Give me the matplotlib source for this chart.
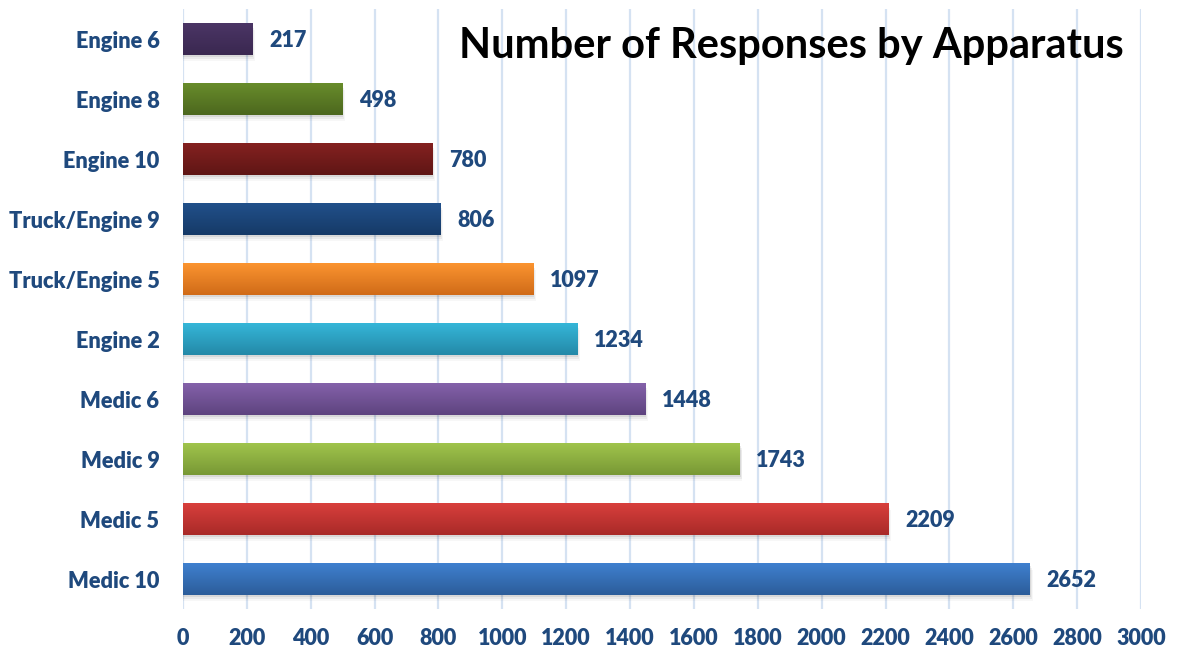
import matplotlib
matplotlib.use("Agg")
import matplotlib.pyplot as plt
import numpy as np
from matplotlib.colors import LinearSegmentedColormap

plt.rcParams['font.family'] = ['Lato', 'DejaVu Sans']

categories = ["Engine 6", "Engine 8", "Engine 10", "Truck/Engine 9", "Truck/Engine 5",
              "Engine 2", "Medic 6", "Medic 9", "Medic 5", "Medic 10"]
responses = [217, 498, 780, 806, 1097, 1234, 1448, 1743, 2209, 2652]
# (top colour, bottom colour) for each bar's vertical gradient
bar_colors = [
    ("#4b3565", "#3a2850"),
    ("#688c2b", "#4c671e"),
    ("#842120", "#5f1615"),
    ("#21508a", "#163a67"),
    ("#fb9430", "#d06b18"),
    ("#35b6d8", "#2489a8"),
    ("#8462aa", "#5e437f"),
    ("#a0c44c", "#789835"),
    ("#d83f3c", "#a92a28"),
    ("#3f80cf", "#2c5d9a"),
]
x_ticks = list(range(0, 3001, 200))

label_color = "#1f497d"
grid_color = "#d5e2f2"
text_weight = "heavy"

fig = plt.figure(figsize=(11.77, 6.56), dpi=100)
ax = fig.add_axes([183 / 1177, 1 - 609 / 656, (1141 - 183) / 1177, 600 / 656])

y = np.arange(len(categories))
bar_h = 0.52

ax.set_xlim(0, 3000)
ax.set_ylim(len(categories) - 0.5, -0.5)

for i, (val, (c_top, c_bot)) in enumerate(zip(responses, bar_colors)):
    # soft drop shadow under each bar
    for k, a in enumerate([0.08, 0.05, 0.03]):
        off = 0.04 + 0.035 * k
        ax.barh(i + off, val + 3 * (k + 1), height=bar_h, left=0,
                color="#000000", alpha=a, linewidth=0, zorder=2)
    bar = ax.barh(i, val, height=bar_h, color=c_top, linewidth=0, zorder=3)[0]
    cmap = LinearSegmentedColormap.from_list("g", [c_top, c_bot])
    grad = np.linspace(0, 1, 64).reshape(-1, 1)
    im = ax.imshow(grad, cmap=cmap, aspect="auto", interpolation="bicubic",
                   extent=(0, val, i + bar_h / 2, i - bar_h / 2), zorder=4)
    im.set_clip_path(bar)
    ax.annotate(f"{val}", xy=(val, i), xytext=(12, -1), textcoords="offset points",
                ha="left", va="center", fontsize=15.5, fontweight=text_weight,
                color=label_color, zorder=5)

ax.set_xlim(0, 3000)
ax.set_ylim(len(categories) - 0.5, -0.5)

ax.set_yticks(y)
ax.set_yticklabels(categories, fontsize=15.7, fontweight=text_weight, color=label_color)
ax.set_xticks(x_ticks)
ax.set_xticklabels([str(t) for t in x_ticks], fontsize=15.5, fontweight=text_weight,
                   color=label_color)
ax.tick_params(axis="both", length=0)
ax.tick_params(axis="y", pad=17)
ax.tick_params(axis="x", pad=14)

ax.xaxis.grid(True, color=grid_color, linewidth=1.6, zorder=0)
ax.set_axisbelow(True)
for s in ax.spines.values():
    s.set_visible(False)

fig.text(791 / 1177, 1 - 46 / 656, "Number of Responses by Apparatus",
         ha="center", va="center", fontsize=30, fontweight="bold", color="black")

fig.savefig("out.png", dpi=100)
